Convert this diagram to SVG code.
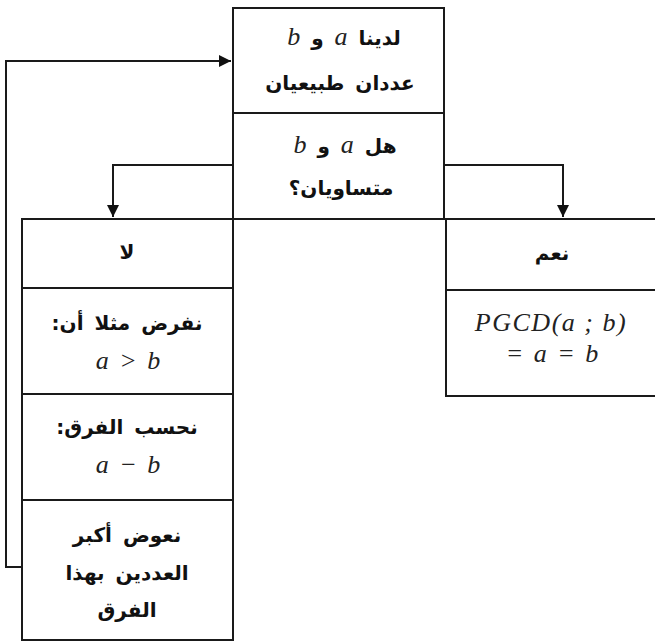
<svg xmlns="http://www.w3.org/2000/svg" width="655" height="643" viewBox="0 0 655 643">
<style>
.box{fill:#fff;stroke:#1a1a1a;stroke-width:2}
.ln{fill:none;stroke:#1a1a1a;stroke-width:2}
.ar{font-family:"DejaVu Sans",sans-serif;font-weight:bold;font-size:20px;fill:#111;text-anchor:middle;word-spacing:4px}
.m{font-family:"Liberation Serif",serif;font-style:italic;font-weight:normal;font-size:26px;fill:#222}
.mt{font-family:"Liberation Serif",serif;font-style:italic;font-size:26px;fill:#222;text-anchor:middle;word-spacing:4px}
.pg{word-spacing:0;letter-spacing:1.5px}
</style>
<defs>
<marker id="arr" viewBox="0 0 10 10" refX="10" refY="5" markerWidth="6" markerHeight="6" orient="auto" markerUnits="strokeWidth">
<path d="M0,0 L10,5 L0,10 z" fill="#111"/>
</marker>
</defs>
<rect width="655" height="643" fill="#fff"/>
<g id="connectors">
<path class="ln" d="M22,567 H6 V61 H231" marker-end="url(#arr)"/>
<path class="ln" d="M233,165 H113 V217" marker-end="url(#arr)"/>
<path class="ln" d="M444,165 H563 V217" marker-end="url(#arr)"/>
</g>
<g id="start">
<rect class="box" x="233" y="8" width="211" height="105"/>
<text class="ar" x="344" y="45" direction="rtl">لدينا <tspan class="m">a</tspan> و <tspan class="m">b</tspan></text>
<text class="ar" x="340" y="90" direction="rtl">عددان طبيعيان</text>
</g>
<g id="question">
<rect class="box" x="233" y="113" width="211" height="106"/>
<text class="ar" x="345" y="153" direction="rtl">هل <tspan class="m">a</tspan> و <tspan class="m">b</tspan></text>
<text class="ar" x="341" y="195" direction="rtl">متساويان؟</text>
</g>
<g id="no">
<rect class="box" x="22" y="219" width="211" height="69"/>
<text class="ar" x="127" y="259" direction="rtl">لا</text>
</g>
<g id="suppose">
<rect class="box" x="22" y="288" width="211" height="106"/>
<text class="ar" x="127" y="330" direction="rtl">نفرض مثلا أن:</text>
<text class="mt" x="128" y="369">a &gt; b</text>
</g>
<g id="difference">
<rect class="box" x="22" y="394" width="211" height="106"/>
<text class="ar" x="127" y="434" direction="rtl">نحسب الفرق:</text>
<text class="mt" x="128" y="473">a − b</text>
</g>
<g id="replace">
<rect class="box" x="22" y="500" width="211" height="140"/>
<text class="ar" x="127" y="542" direction="rtl">نعوض أكبر</text>
<text class="ar" x="127" y="580" direction="rtl">العددين بهذا</text>
<text class="ar" x="127" y="617" direction="rtl">الفرق</text>
</g>
<g id="yes">
<path class="box" d="M660,219 H446 V290 H660"/>
<text class="ar" x="552" y="260" direction="rtl">نعم</text>
</g>
<g id="result">
<path class="box" d="M660,290 H446 V396 H660"/>
<text class="mt pg" x="551" y="331">PGCD(a ; b)</text>
<text class="mt" x="552" y="362">= a = b</text>
</g>
</svg>
